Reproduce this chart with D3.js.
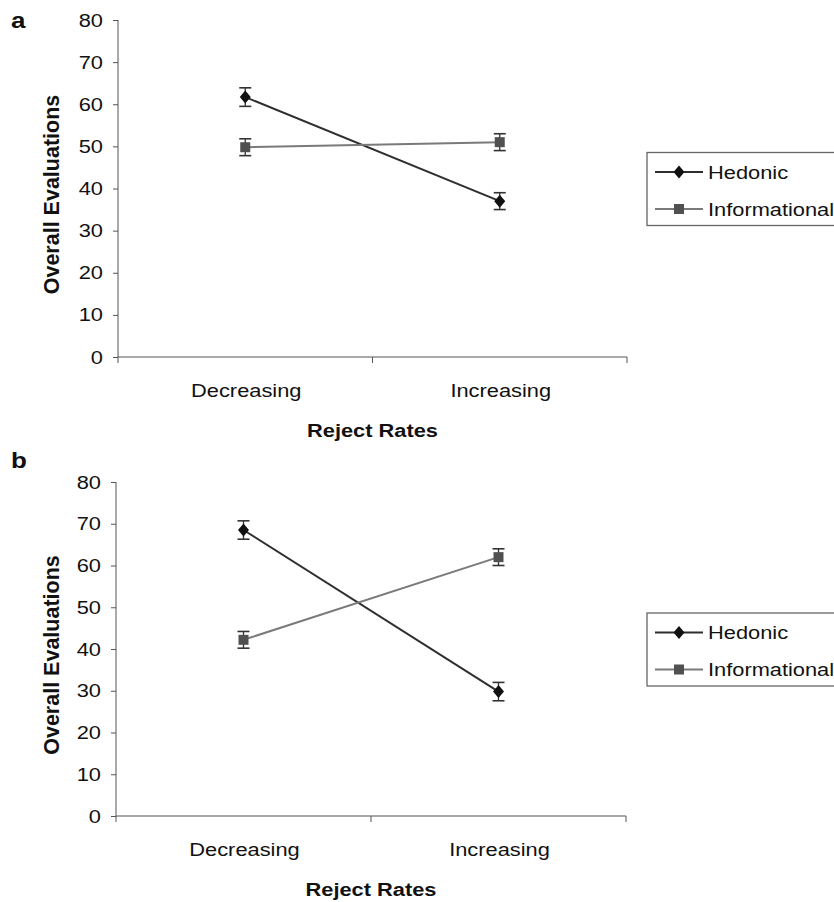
<!DOCTYPE html>
<html>
<head>
<meta charset="utf-8">
<script src="https://cdn.jsdelivr.net/npm/d3@7/dist/d3.min.js"></script>
<style>
  body { margin: 0; background: #fff; }
  svg { font-family: "Liberation Sans", Arial, sans-serif; }
</style>
</head>
<body>
<svg width="834" height="902"></svg>
<script>
// categories and tick labels
var categories = ["Decreasing", "Increasing"];
var yTicks = [0, 10, 20, 30, 40, 50, 60, 70, 80];
var seriesNames = ["Hedonic", "Informational"];

// panel a
var hedonicA = [61.7, 37.0];
var informationalA = [49.8, 51.0];
var hedonicErrA = [2.2, 2.0];
var informationalErrA = [2.0, 2.0];

// panel b
var hedonicB = [68.5, 29.8];
var informationalB = [42.2, 62.0];
var hedonicErrB = [2.2, 2.2];
var informationalErrB = [2.0, 2.0];

var svg = d3.select("svg");

// the scanned figure is a bit wider than tall, so text is stretched sideways
var SX = 1.18;

var panels = [
  {label: "a", labelY: 28, top: 20, left: 118, right: 627, bottom: 357,
   series: [hedonicA, informationalA], errs: [hedonicErrA, informationalErrA]},
  {label: "b", labelY: 468, top: 482, left: 116, right: 626, bottom: 816,
   series: [hedonicB, informationalB], errs: [hedonicErrB, informationalErrB]}
];

var lineColors = ["#2e2e2e", "#7a7a7a"];
var markerColors = ["#111", "#505050"];

function label(sel, x, y, txt, size, anchor, bold) {
  return sel.append("text")
    .attr("transform", "translate(" + x + "," + y + ") scale(" + SX + ",1)")
    .attr("text-anchor", anchor || "start")
    .attr("font-size", size)
    .attr("font-weight", bold ? "bold" : "normal")
    .attr("fill", "#111")
    .text(txt);
}

function marker(sel, i, cx, cy) {
  if (i === 0) {
    sel.append("path")
      .attr("d", "M0,-6.5L5.5,0L0,6.5L-5.5,0Z")
      .attr("transform", "translate(" + cx + "," + cy + ")")
      .attr("fill", markerColors[0]);
  } else {
    sel.append("rect")
      .attr("x", cx - 5).attr("y", cy - 5)
      .attr("width", 10).attr("height", 10)
      .attr("fill", markerColors[1]);
  }
}

panels.forEach(function(p) {
  var g = svg.append("g");

  var x = d3.scaleBand().domain(categories).range([p.left, p.right]);
  var y = d3.scaleLinear().domain([0, 80]).range([p.bottom, p.top]);

  // panel letter
  label(g, 11, p.labelY, p.label, 22, "start", true);

  // y axis
  var yAxis = g.append("g")
    .attr("transform", "translate(" + p.left + ",0)")
    .call(d3.axisLeft(y).tickValues(yTicks).tickSize(5).tickFormat(""));
  yAxis.select(".domain").attr("stroke", "#555").attr("d", "M0," + p.top + "V" + p.bottom);
  yAxis.selectAll(".tick line").attr("stroke", "#555");
  yTicks.forEach(function(t) {
    label(g, p.left - 15, y(t) + 6.5, t, 18.5, "end");
  });

  // x axis with ticks at band edges
  var xAxis = g.append("g")
    .attr("transform", "translate(0," + p.bottom + ")");
  xAxis.append("line")
    .attr("x1", p.left).attr("x2", p.right)
    .attr("stroke", "#555");
  var edges = [p.left, (p.left + p.right) / 2, p.right];
  xAxis.selectAll(".edge").data(edges).enter().append("line")
    .attr("x1", function(d) { return d; }).attr("x2", function(d) { return d; })
    .attr("y1", 0).attr("y2", 6).attr("stroke", "#555");
  categories.forEach(function(c) {
    label(g, x(c) + x.bandwidth() / 2 + 1, p.bottom + 40, c, 18.5, "middle");
  });

  // axis titles
  label(g, (p.left + p.right) / 2, p.bottom + 80, "Reject Rates", 18.5, "middle", true);
  g.append("text")
    .attr("transform", "translate(59," + ((p.top + p.bottom) / 2 + 6) + ") rotate(-90)")
    .attr("text-anchor", "middle")
    .attr("font-size", 21.5).attr("font-weight", "bold").attr("fill", "#111")
    .text("Overall Evaluations");

  var cx = function(j) { return x(categories[j]) + x.bandwidth() / 2; };

  // lines
  p.series.forEach(function(vals, i) {
    var line = d3.line()
      .x(function(d, j) { return cx(j); })
      .y(function(d) { return y(d); });
    g.append("path")
      .datum(vals)
      .attr("d", line)
      .attr("fill", "none")
      .attr("stroke", lineColors[i])
      .attr("stroke-width", 2);
  });

  // error bars and markers
  p.series.forEach(function(vals, i) {
    vals.forEach(function(v, j) {
      var e = p.errs[i][j];
      var xx = cx(j);
      g.append("line")
        .attr("x1", xx).attr("x2", xx)
        .attr("y1", y(v + e)).attr("y2", y(v - e))
        .attr("stroke", "#333").attr("stroke-width", 1.3);
      [v + e, v - e].forEach(function(c) {
        g.append("line")
          .attr("x1", xx - 6).attr("x2", xx + 6)
          .attr("y1", y(c)).attr("y2", y(c))
          .attr("stroke", "#333").attr("stroke-width", 1.6);
      });
      marker(g, i, xx, y(v));
    });
  });

  // legend
  var lg = g.append("g")
    .attr("transform", "translate(647," + ((p.top + p.bottom) / 2 - 36) + ")");
  lg.append("rect")
    .attr("x", 0).attr("y", 0).attr("width", 210).attr("height", 73)
    .attr("fill", "#fff").attr("stroke", "#666").attr("stroke-width", 1.3);
  seriesNames.forEach(function(name, i) {
    var yy = 19.5 + i * 37;
    lg.append("line")
      .attr("x1", 8).attr("x2", 56).attr("y1", yy).attr("y2", yy)
      .attr("stroke", lineColors[i]).attr("stroke-width", 2);
    marker(lg, i, 32, yy);
    label(lg, 61, yy + 6.5, name, 18.5, "start");
  });
});
</script>
</body>
</html>
